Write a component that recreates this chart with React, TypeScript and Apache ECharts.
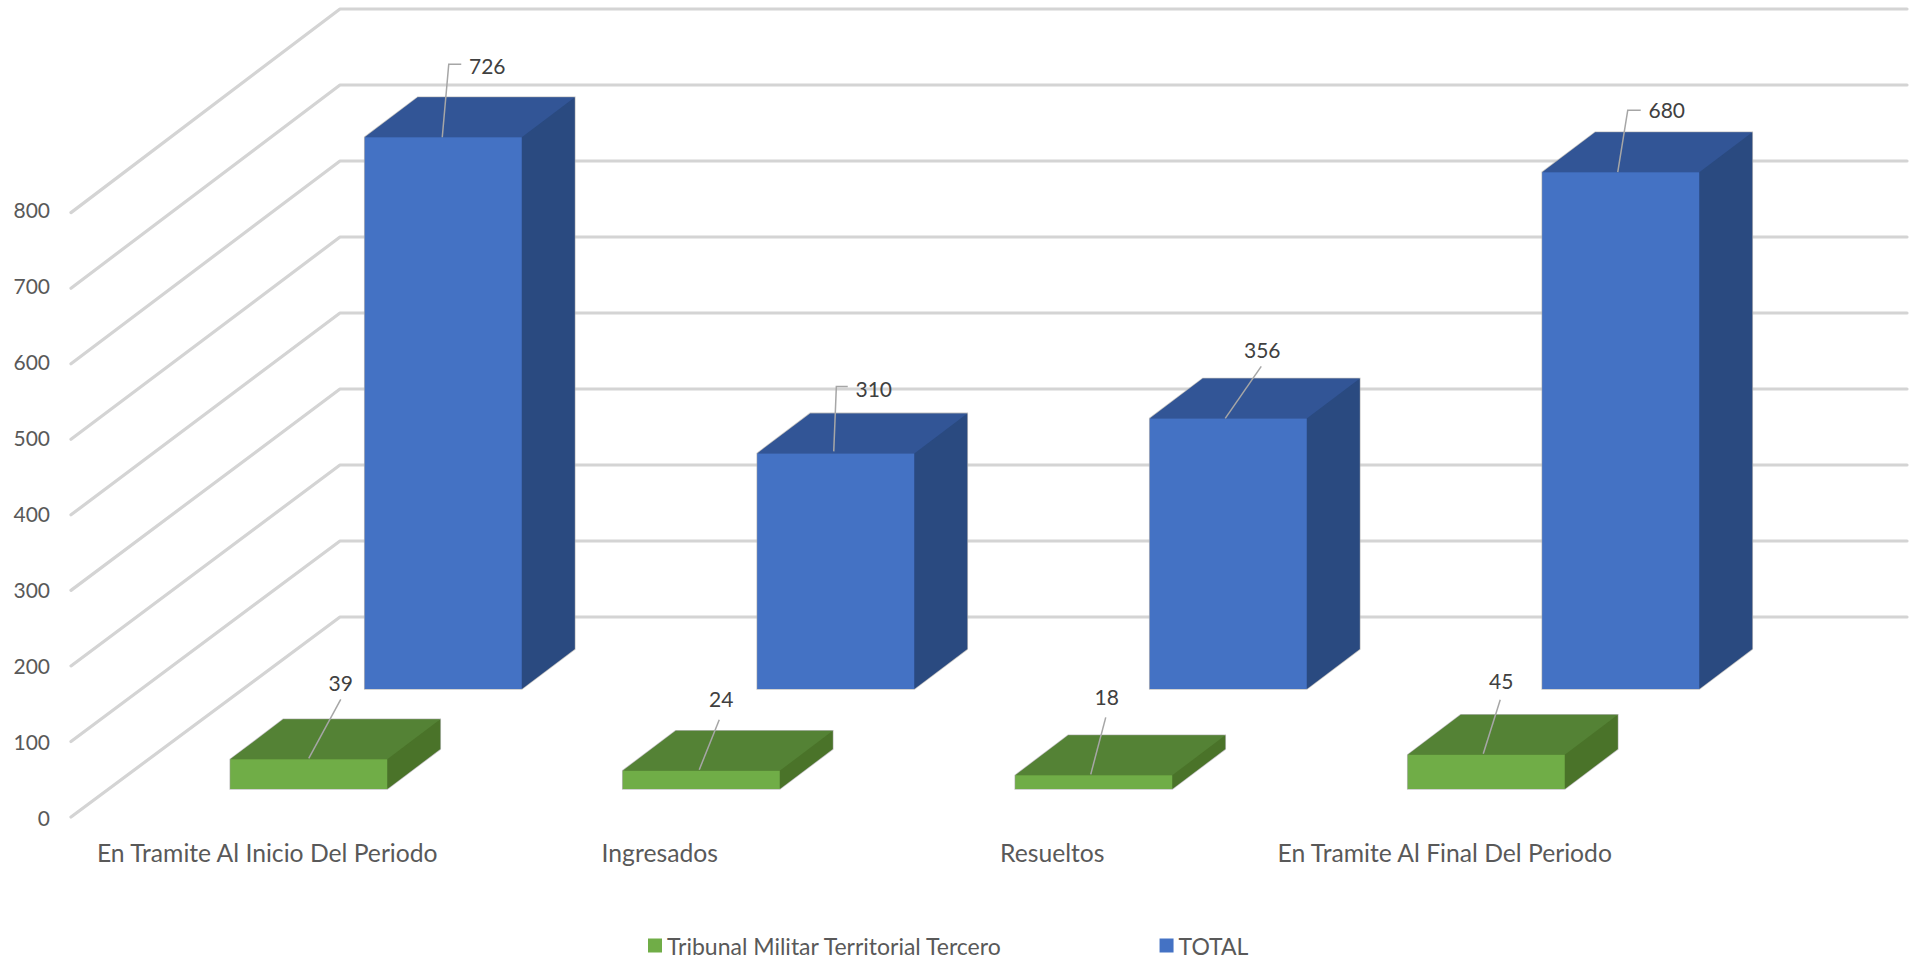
import React, { useEffect, useRef } from "react";
import * as echarts from "echarts";

const categories = [
  "En Tramite Al Inicio Del Periodo",
  "Ingresados",
  "Resueltos",
  "En Tramite Al Final Del Periodo",
];
const tribunalValues = [39, 24, 18, 45];
const totalValues = [726, 310, 356, 680];
const yTicks = [0, 100, 200, 300, 400, 500, 600, 700, 800];

const TRIBUNAL = "Tribunal Militar Territorial Tercero";
const TOTAL = "TOTAL";

// Oblique projection of the plot, in pixels
const WALL_DX = 269;
const WALL_DY = 200;
const FRONT_SQUEEZE = 0.994;
const BAR_RATIO = 0.4;
const BOX_DX = 53;
const BOX_DY = 40;
const FONT = "Lato, Carlito, 'Noto Sans', sans-serif";

// Leader polylines and label anchors relative to the centre of the bar's top edge
const tribunalLeaders = [
  { line: [[0, -1], [32, -60]], label: [32, -77] },
  { line: [[-2, -1], [18, -51]], label: [20, -72] },
  { line: [[-3, -1], [12, -58]], label: [13, -79] },
  { line: [[-3, -1], [14, -55]], label: [15, -74] },
];
const totalLeaders = [
  { line: [[-1, 0], [5.5, -73], [18, -73]], label: [44, -72] },
  { line: [[-2, -2], [0.6, -67], [12, -67]], label: [38, -65] },
  { line: [[-3, 0], [33, -52]], label: [34, -69] },
  { line: [[-3, 0], [7, -62], [20, -62]], label: [46, -63] },
];

function boxRenderer(
  planeDx: number,
  planeDy: number,
  front: string,
  top: string,
  side: string,
  leaders: { line: number[][]; label: number[] }[],
) {
  return (params: any, api: any) => {
    const idx = params.dataIndex;
    const cat = api.value(0);
    const val = api.value(1);
    const base = api.coord([cat, 0]);
    const head = api.coord([cat, val]);
    const w = api.size([1, 0])[0] * BAR_RATIO;
    const x0 = base[0] + planeDx - w / 2;
    const x1 = x0 + w;
    const yb = base[1] - planeDy;
    const yt = head[1] - planeDy;
    const cx = (x0 + x1) / 2;
    const lead = leaders[idx];
    return {
      type: "group",
      children: [
        {
          type: "polygon",
          shape: {
            points: [
              [x0, yb],
              [x1, yb],
              [x1 + BOX_DX, yb - BOX_DY],
              [x1 + BOX_DX, yt - BOX_DY],
              [x0 + BOX_DX, yt - BOX_DY],
              [x0, yt],
            ],
          },
          style: { fill: side, stroke: "rgba(170,170,170,0.7)", lineWidth: 1.6 },
        },
        {
          type: "polygon",
          shape: { points: [[x1, yb], [x1 + BOX_DX, yb - BOX_DY], [x1 + BOX_DX, yt - BOX_DY], [x1, yt]] },
          style: { fill: side },
        },
        {
          type: "polygon",
          shape: { points: [[x0, yt], [x1, yt], [x1 + BOX_DX, yt - BOX_DY], [x0 + BOX_DX, yt - BOX_DY]] },
          style: { fill: top },
        },
        {
          type: "polygon",
          shape: { points: [[x0, yb], [x1, yb], [x1, yt], [x0, yt]] },
          style: { fill: front },
        },
        {
          type: "polyline",
          shape: { points: lead.line.map((p) => [cx + p[0], yt + p[1]]) },
          style: { fill: "none", stroke: "#a6a6a6", lineWidth: 1.5 },
        },
        {
          type: "text",
          x: cx + lead.label[0],
          y: yt + lead.label[1],
          style: {
            text: String(val),
            font: `21px ${FONT}`,
            fill: "#404040",
            align: "center",
            verticalAlign: "middle",
          },
        },
      ],
    };
  };
}

function wallRenderer(params: any, api: any) {
  const p = api.coord([0, api.value(0)]);
  const floor = api.coord([0, 0]);
  const cs = params.coordSys;
  const x = cs.x;
  return {
    type: "polyline",
    shape: {
      points: [
        [x, floor[1] - (floor[1] - p[1]) * FRONT_SQUEEZE],
        [x + WALL_DX, p[1] - WALL_DY],
        [x + cs.width + WALL_DX - 3, p[1] - WALL_DY],
      ],
    },
    style: { fill: "none", stroke: "#d4d4d4", lineWidth: 3.2, lineCap: "round", lineJoin: "round" },
  };
}

export default function App() {
  const ref = useRef<HTMLDivElement>(null);
  useEffect(() => {
    const chart = echarts.init(ref.current!, undefined, { renderer: "svg" });
    chart.setOption({
      animation: false,
      backgroundColor: "#ffffff",
      textStyle: { fontFamily: FONT },
      grid: { left: 71, top: 209, width: 1570, height: 608 },
      legend: {
        left: 643,
        top: 929,
        itemWidth: 14,
        itemHeight: 14,
        itemGap: 157,
        icon: "rect",
        data: [TRIBUNAL, TOTAL],
        textStyle: { color: "#595959", fontSize: 23, fontFamily: FONT },
      },
      xAxis: {
        type: "category",
        data: categories,
        axisLine: { show: false },
        axisTick: { show: false },
        splitLine: { show: false },
        axisLabel: { color: "#595959", fontSize: 24.7, fontFamily: FONT, margin: 23, interval: 0 },
      },
      yAxis: {
        type: "value",
        min: 0,
        max: 800,
        interval: 100,
        axisLine: { show: false },
        axisTick: { show: false },
        splitLine: { show: false },
        axisLabel: { color: "#595959", fontSize: 21, fontFamily: FONT, margin: 21 },
      },
      series: [
        {
          type: "custom",
          name: "wall",
          silent: true,
          renderItem: wallRenderer,
          encode: { y: 0 },
          data: yTicks.map((v) => [v]),
          z: 1,
        },
        {
          type: "custom",
          name: TOTAL,
          itemStyle: { color: "#4472C4" },
          renderItem: boxRenderer(176, 128, "#4472C4", "#325596", "#2A4A80", totalLeaders),
          encode: { x: 0, y: 1 },
          data: totalValues.map((v, i) => [i, v]),
          z: 2,
        },
        {
          type: "custom",
          name: TRIBUNAL,
          itemStyle: { color: "#70AD47" },
          renderItem: boxRenderer(41.5, 28, "#70AD47", "#548235", "#4A7329", tribunalLeaders),
          encode: { x: 0, y: 1 },
          data: tribunalValues.map((v, i) => [i, v]),
          z: 3,
        },
      ],
    });
    return () => chart.dispose();
  }, []);
  return <div ref={ref} style={{ position: "absolute", left: 0, top: 0, width: 1911, height: 962 }} />;
}
